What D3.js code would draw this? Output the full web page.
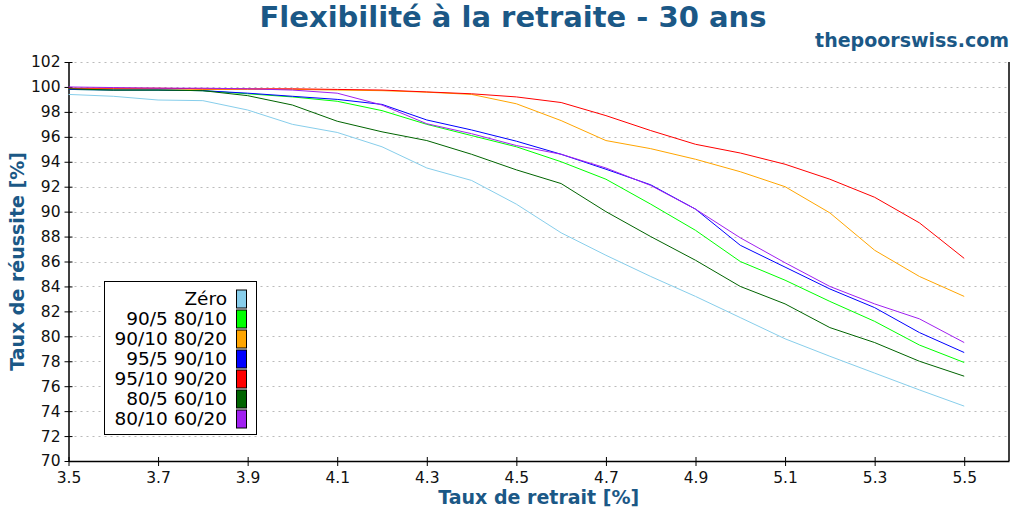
<!DOCTYPE html>
<html>
<head>
<meta charset="utf-8">
<script src="https://cdn.jsdelivr.net/npm/d3@7"></script>
<style>
  body { margin: 0; background: #fff; }
  svg { font-family: "DejaVu Sans", sans-serif; }
</style>
</head>
<body>
<svg></svg>
<script>
// withdrawal rates (x values)
const rates = [3.5, 3.6, 3.7, 3.8, 3.9, 4.0, 4.1, 4.2, 4.3, 4.4, 4.5,
               4.6, 4.7, 4.8, 4.9, 5.0, 5.1, 5.2, 5.3, 5.4, 5.5];

const seriesNames = ["Zéro", "90/5 80/10", "90/10 80/20", "95/5 90/10",
                     "95/10 90/20", "80/5 60/10", "80/10 60/20"];
const seriesColors = ["#87ceeb", "#00ff00", "#ffa500", "#0000ff",
                      "#ff0000", "#006400", "#a020f0"];

const zero      = [99.4, 99.25, 98.95, 98.9, 98.15, 97.0, 96.35, 95.2, 93.5, 92.5, 90.6,
                   88.3, 86.5, 84.8, 83.2, 81.5, 79.8, 78.4, 77.05, 75.7, 74.4];
const s90_5     = [99.8, 99.75, 99.75, 99.7, 99.45, 99.2, 98.85, 98.1, 97.0, 96.1, 95.2,
                   94.0, 92.6, 90.6, 88.5, 86.0, 84.5, 82.8, 81.2, 79.3, 77.9];
const s90_10    = [99.85, 99.85, 99.85, 99.8, 99.8, 99.8, 99.75, 99.7, 99.58, 99.4, 98.65,
                   97.3, 95.7, 95.05, 94.2, 93.2, 92.0, 89.9, 86.9, 84.8, 83.2];
const s95_5     = [99.8, 99.75, 99.75, 99.7, 99.5, 99.25, 99.0, 98.6, 97.35, 96.55, 95.65,
                   94.6, 93.4, 92.15, 90.2, 87.3, 85.55, 83.8, 82.3, 80.3, 78.7];
const s95_10    = [99.9, 99.9, 99.9, 99.85, 99.85, 99.85, 99.8, 99.75, 99.6, 99.45, 99.2,
                   98.75, 97.7, 96.5, 95.4, 94.7, 93.8, 92.6, 91.15, 89.1, 86.25];
const s80_5     = [99.85, 99.75, 99.75, 99.7, 99.3, 98.55, 97.25, 96.4, 95.7, 94.6, 93.35,
                   92.25, 90.0, 88.0, 86.1, 84.0, 82.6, 80.7, 79.5, 78.0, 76.8];
const s80_10    = [100.0, 99.95, 99.9, 99.9, 99.85, 99.75, 99.5, 98.55, 97.05, 96.25, 95.3,
                   94.6, 93.5, 92.1, 90.2, 87.9, 85.9, 84.0, 82.6, 81.4, 79.5];

const allSeries = [zero, s90_5, s90_10, s95_5, s95_10, s80_5, s80_10];

const xTicks = [3.5, 3.7, 3.9, 4.1, 4.3, 4.5, 4.7, 4.9, 5.1, 5.3, 5.5];
const yTicks = d3.range(70, 103, 2);

const titleColor = "#1b5886";
const W = 1024, H = 512;
const plot = {l: 68.5, r: 1009, t: 62, b: 461};

const svg = d3.select('svg')
    .attr('width', W)
    .attr('height', H);

const scaleX = d3.scaleLinear().domain([3.5, 5.6]).range([plot.l, plot.r]);
const scaleY = d3.scaleLinear().domain([70, 102]).range([plot.b, plot.t]);

// horizontal grid
svg.append("g")
    .selectAll("line")
    .data(yTicks.filter(d => d > 70))
    .enter()
    .append("line")
        .attr("x1", plot.l)
        .attr("x2", plot.r)
        .attr("y1", d => Math.round(scaleY(d)) + 0.5)
        .attr("y2", d => Math.round(scaleY(d)) + 0.5)
        .attr("stroke", "#bbbbbb")
        .attr("stroke-dasharray", "2,4");

// axes
const yAxis = svg.append("g")
    .attr("transform", `translate(${plot.l}, 0)`)
    .call(d3.axisLeft(scaleY).tickValues(yTicks).tickSize(4).tickSizeOuter(0).tickPadding(4));
yAxis.selectAll(".tick line").attr("x2", 4).attr("x1", -4);

const xAxis = svg.append("g")
    .attr("transform", `translate(0, ${plot.b})`)
    .call(d3.axisBottom(scaleX).tickValues(xTicks).tickFormat(d3.format(".1f"))
        .tickSize(4).tickSizeOuter(0).tickPadding(7));
xAxis.selectAll(".tick line").attr("y1", -4).attr("y2", 5);

[yAxis, xAxis].forEach(a => {
    a.selectAll("text").attr("font-size", 15.5).attr("fill", "#111")
        .attr("font-family", "DejaVu Sans, sans-serif");
    a.select(".domain").attr("stroke", "#000").attr("stroke-width", 1.5);
});

// right border
svg.append("line")
    .attr("x1", plot.r).attr("x2", plot.r)
    .attr("y1", plot.t).attr("y2", plot.b)
    .attr("stroke", "#000").attr("stroke-width", 1.5);

// lines
const line = d3.line()
    .x((d, i) => scaleX(rates[i]))
    .y(d => scaleY(d));

svg.append("g")
    .selectAll("path")
    .data(allSeries)
    .enter()
    .append("path")
        .attr("fill", "none")
        .attr("stroke", (d, i) => seriesColors[i])
        .attr("stroke-width", 1)
        .attr("d", d => line(d));

// legend
const legend = svg.append("g");
legend.append("rect")
    .attr("x", 104.5).attr("y", 281.5)
    .attr("width", 152).attr("height", 153)
    .attr("fill", "#fff").attr("stroke", "#000");

const rows = legend.selectAll(".row")
    .data(seriesNames)
    .enter()
    .append("g")
        .attr("class", "row")
        .attr("transform", (d, i) => `translate(0, ${299 + i * 20})`);
rows.append("text")
    .attr("x", 227)
    .attr("y", 6)
    .attr("text-anchor", "end")
    .attr("font-size", 18.5)
    .attr("fill", "#000")
    .text(d => d);
rows.append("rect")
    .attr("x", 236.5).attr("y", -9)
    .attr("width", 10).attr("height", 18)
    .attr("fill", (d, i) => seriesColors[i])
    .attr("stroke", "#000");

// titles
svg.append("text")
    .attr("x", 513).attr("y", 27)
    .attr("text-anchor", "middle")
    .attr("font-size", 29).attr("font-weight", "bold")
    .attr("fill", titleColor)
    .text("Flexibilité à la retraite - 30 ans");

svg.append("text")
    .attr("x", 1009).attr("y", 47)
    .attr("text-anchor", "end")
    .attr("font-size", 19).attr("font-weight", "bold")
    .attr("fill", titleColor)
    .text("thepoorswiss.com");

svg.append("text")
    .attr("x", (plot.l + plot.r) / 2).attr("y", 504)
    .attr("text-anchor", "middle")
    .attr("font-size", 19).attr("font-weight", "bold")
    .attr("fill", titleColor)
    .text("Taux de retrait [%]");

svg.append("text")
    .attr("transform", `translate(24, ${(plot.t + plot.b) / 2}) rotate(-90)`)
    .attr("text-anchor", "middle")
    .attr("font-size", 19).attr("font-weight", "bold")
    .attr("fill", titleColor)
    .text("Taux de réussite [%]");
</script>
</body>
</html>
